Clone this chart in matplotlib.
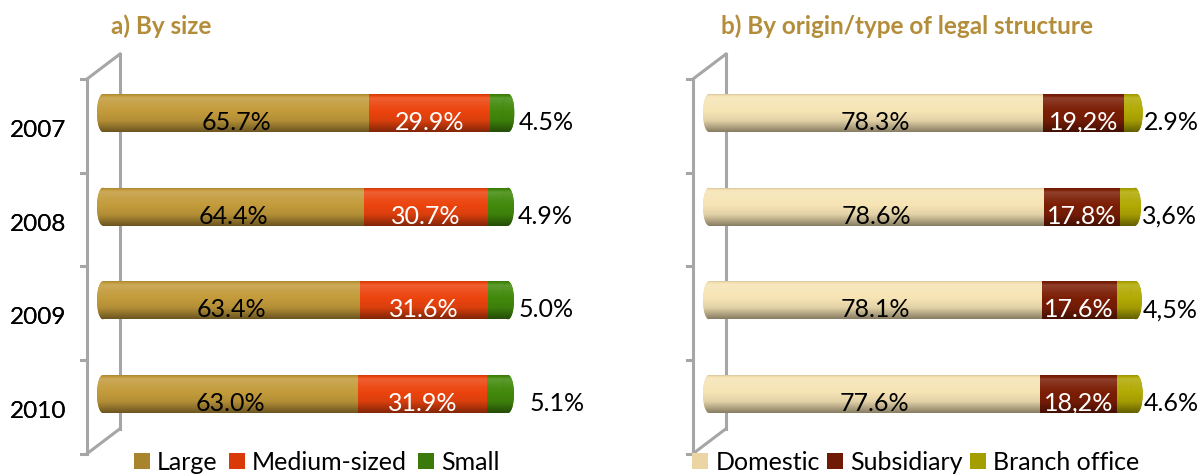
import numpy as np
import matplotlib
matplotlib.use('Agg')
import matplotlib.pyplot as plt
from matplotlib.patches import Ellipse
from matplotlib.colors import to_rgb

plt.rcParams['font.family'] = ['Lato', 'DejaVu Sans']

years = ['2007', '2008', '2009', '2010']

# a) By size
size_names = ['Large', 'Medium-sized', 'Small']
large = [65.7, 64.4, 63.4, 63.0]
medium = [29.9, 30.7, 31.6, 31.9]
small = [4.5, 4.9, 5.0, 5.1]
large_labels = ['65.7%', '64.4%', '63.4%', '63.0%']
medium_labels = ['29.9%', '30.7%', '31.6%', '31.9%']
small_labels = ['4.5%', '4.9%', '5.0%', '5.1%']

# b) By origin/type of legal structure
origin_names = ['Domestic', 'Subsidiary', 'Branch office']
domestic = [78.3, 78.6, 78.1, 77.6]
subsidiary = [19.2, 17.8, 17.6, 18.2]
branch = [2.9, 3.6, 4.5, 4.6]
domestic_labels = ['78.3%', '78.6%', '78.1%', '77.6%']
subsidiary_labels = ['19,2%', '17.8%', '17.6%', '18,2%']
branch_labels = ['2.9%', '3,6%', '4,5%', '4.6%']

W, H = 1203, 477
FS = 18
GOLD = '#B38D3A'
WALL = '#A6A6A6'

fig = plt.figure(figsize=(W / 100, H / 100), dpi=100)


def shade(color, n=80):
    # vertical light profile of a cylinder: highlight near the top, dark bottom
    c = np.array(to_rgb(color))
    t = np.linspace(0, 1, n)
    k = np.interp(t, [0, 0.1, 0.3, 0.7, 1], [0.88, 1.15, 1.05, 0.92, 0.55])[:, None]
    rows = np.where(k > 1, c + (1 - c) * (k - 1), c * k)
    return np.repeat(rows[:, None, :], 2, axis=1)


def gradient(ax, patch, color, z):
    x0, y0, x1, y1 = patch.get_extents().transformed(ax.transData.inverted()).extents
    im = ax.imshow(shade(color), extent=(x0, x1, max(y0, y1), min(y0, y1)),
                   origin='upper', aspect='auto', interpolation='bilinear', zorder=z)
    im.set_clip_path(patch)


def panel(span, x0_px, scale, series, seg_labels, end_labels, names,
          legend_cols, body_cols, text_cols, end_pad, title, title_x, legend_x, colspace):
    ax = fig.add_axes([span[0] / W, 0, (span[1] - span[0]) / W, 1])
    fx = lambda p: (p - x0_px) / scale
    dy = lambda p: p / 93.67
    ax.set_xlim(fx(span[0]), fx(span[1]))
    ax.set_ylim(dy(H - 114), dy(-114))
    ax.axis('off')

    y = np.arange(len(years))
    bh = dy(38)
    r = 6 / scale

    # 3D walls
    xf, xb = fx(x0_px - 16), fx(x0_px + 17)
    ticks = np.arange(5) - 0.363
    ax.plot([xf, xf], [ticks[0], ticks[-1]], color=WALL, lw=2.2, zorder=1)
    ax.plot([xb, xb], [ticks[0] - dy(25), ticks[-1] - dy(25)], color=WALL, lw=2.2, zorder=1)
    for yy in (ticks[0], ticks[-1]):
        ax.plot([xf, xb], [yy, yy - dy(25)], color=WALL, lw=2.2, zorder=1)
    for yy in ticks:
        ax.plot([fx(x0_px - 22), xf], [yy, yy], color=WALL, lw=2.2, zorder=1)

    left = np.zeros(len(years))
    handles = []
    for i, vals in enumerate(series):
        vals = np.array(vals)
        bars = ax.barh(y, vals, left=left, height=bh, color=legend_cols[i], zorder=3)
        for p in bars:
            gradient(ax, p, body_cols[i], 3.1)
        handles.append(bars)
        if i < len(seg_labels):
            for yi, xc, lab in zip(y, left + vals / 2, seg_labels[i]):
                ax.text(xc, yi + dy(16), lab, ha='center', va='baseline',
                        fontsize=FS, color=text_cols[i], zorder=6)
        left = left + vals

    # rounded ends of the cylinders
    for yi, tot in zip(y, left):
        e0 = Ellipse((0, yi), 2 * r, bh, facecolor=legend_cols[0], zorder=2)
        ax.add_patch(e0)
        gradient(ax, e0, body_cols[0], 2.1)
        e1 = Ellipse((tot, yi), 2 * r, bh, facecolor=legend_cols[-1],
                     edgecolor='none', zorder=4)
        ax.add_patch(e1)
        gradient(ax, e1, body_cols[-1], 4.1)

    for yi, tot, lab, pad in zip(y, left, end_labels, end_pad):
        ax.text(tot + pad / scale, yi + dy(16), lab, ha='left', va='baseline',
                fontsize=FS, color='black', zorder=6)
    for yi, yr in zip(y, years):
        ax.text(fx(66), yi + dy(23), yr, ha='right', va='baseline', fontsize=17.5)

    fig.text(title_x / W, 1 - 34 / H, title, ha='center', va='baseline',
             fontsize=17.5, fontweight='bold', color=GOLD)
    ax.legend(handles, names, loc='center', bbox_to_anchor=(legend_x / W, 1 - 463 / H),
              bbox_transform=fig.transFigure, ncol=3, frameon=False, fontsize=FS,
              handlelength=0.62, handleheight=0.62, handletextpad=0.3,
              columnspacing=colspace, borderpad=0)


panel((0, 600), 103, 4.05, [large, medium, small],
      [large_labels, medium_labels], small_labels, size_names,
      ['#A8842C', '#D93A08', '#3A7A0A'], ['#C39B3B', '#EC440E', '#428A0C'],
      ['black', 'white'], [10, 10, 11, 22], 'a) By size', 161, 317, 0.45)

panel((600, 1203), 709, 4.26, [domestic, subsidiary, branch],
      [domestic_labels, subsidiary_labels], branch_labels, origin_names,
      ['#EBD5A3', '#6E1A06', '#A59E00'], ['#F6E4B5', '#7C1E06', '#B2AA04'],
      ['black', 'white'], [7, 7, 7, 7], 'b) By origin/type of legal structure', 907, 916, 0.3)

fig.savefig('out.png', dpi=100)
